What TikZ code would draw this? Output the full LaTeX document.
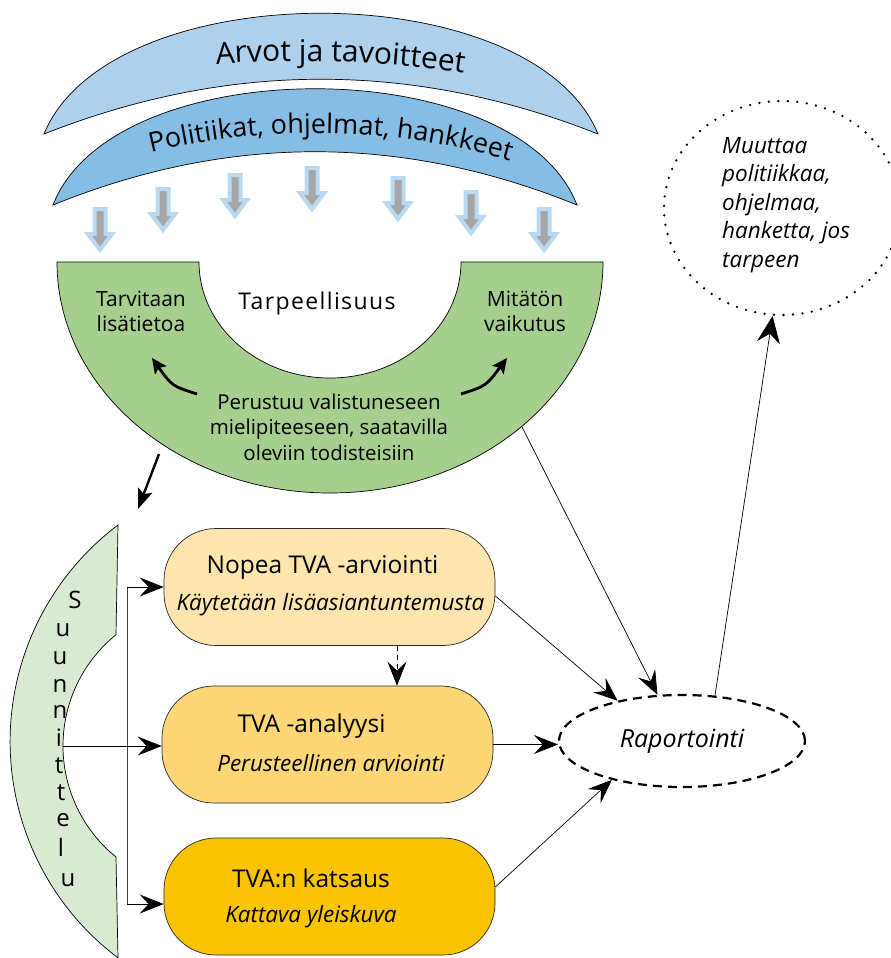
\documentclass[tikz,border=0pt]{standalone}
\usepackage{fontspec}
\setmainfont{Open Sans}
\newfontfamily\spacedfont[LetterSpace=6]{Open Sans}
\usetikzlibrary{arrows.meta,decorations.text,calc,shapes.geometric}

\definecolor{arcA}{HTML}{ADD0EC}
\definecolor{arcB}{HTML}{85BDE5}
\definecolor{arrOut}{HTML}{B9D8F1}
\definecolor{arrIn}{HTML}{A6A6A6}
\definecolor{greenA}{HTML}{A6CE8E}
\definecolor{greenB}{HTML}{D9EAD3}
\definecolor{boxA}{HTML}{FDE5AD}
\definecolor{boxB}{HTML}{FDD776}
\definecolor{boxC}{HTML}{FBC400}

\newcommand\fsz[2]{\fontsize{#1}{#2}\selectfont}
\newcommand\arvofont{\fontsize{30}{32}\selectfont}
\newcommand\polfont{\fontsize{27}{29}\selectfont}

\begin{document}
\begin{tikzpicture}[x=1pt,y=-1pt,
  outl/.style={draw=black, line width=0.7pt},
  darr/.style={fill=arrIn, draw=arrOut, line width=4pt, line join=miter},
  boxnode/.style={draw=black!85, line width=0.7pt, rounded corners=52pt, minimum width=331pt, minimum height=117pt, inner sep=0pt},
  conn/.style={draw=black, line width=0.7pt, -{Stealth[length=24pt,width=19pt,inset=9pt]}},
  title/.style={font=\fsz{24.5}{28}, inner sep=0pt},
  sub/.style={font=\fsz{22.5}{26}\itshape, inner sep=0pt},
  gtext/.style={font=\fsz{21}{25}, align=center, inner sep=0pt},
  thickarr/.style={line width=2.8pt, -{Stealth[length=15pt,width=14pt,inset=3pt]}},
  letter/.style={font=\fsz{24}{28}, inner sep=0pt},
]
\fill[white] (0,0) rectangle (891,958);
\useasboundingbox (0,0) rectangle (891,958);

% top arcs
\draw[outl, fill=arcA] (44,134) .. controls (110,-27) and (532,-27) .. (598,134)
  .. controls (413,61) and (229,61) .. (44,134) -- cycle;
\draw[outl, fill=arcB] (53,205) .. controls (113,50) and (517,50) .. (577,205)
  .. controls (402,134) and (228,134) .. (53,205) -- cycle;
\path[decorate, decoration={text along path, text align=center, text={|\arvofont|Arvot ja tavoitteet}}]
  ($(300,1161)+(262.1:1100)$) arc[start angle=262.1, end angle=282.1, radius=1100];
\path[decorate, decoration={text along path, text align=center, text={|\polfont|Politiikat, ohjelmat, hankkeet}}]
  ($(315,833)+(251.3:700)$) arc[start angle=251.3, end angle=291.3, radius=700];

% small down arrows
\foreach \x/\y in {100/207,163/187,235/173,312/166,398/176,471/190,544/207}{
  \draw[darr] (\x-5.5,\y+2) -- (\x+5.5,\y+2) -- (\x+5.5,\y+27) -- (\x+12,\y+27)
    -- (\x,\y+43) -- (\x-12,\y+27) -- (\x-5.5,\y+27) -- cycle;
}

% green half ring
\draw[outl, fill=greenA] (57,262) arc[start angle=180, end angle=0, x radius=273, y radius=231]
  -- (461,262) arc[start angle=0, end angle=180, x radius=131, y radius=116] -- cycle;
\node[gtext] (tarv) at (141,311) {Tarvitaan\\lisätietoa};
\node[inner sep=0pt] (tarpe) at (317,304) {\spacedfont\fsz{23}{26}Tarpeellisuus};
\node[gtext] (mita) at (525,311) {Mitätön\\vaikutus};
\node[gtext, font=\fsz{20.5}{25.5}] (perus) at (329,427) {Perustuu valistuneseen\\mielipiteeseen, saatavilla\\oleviin todisteisiin};
\coordinate (la1) at (197,394);
\coordinate (la2) at (152,358);
\coordinate (ra1) at (461,394);
\coordinate (ra2) at (507,358);
\draw[thickarr] (la1) .. controls (172,386) .. (la2);
\draw[thickarr] (ra1) .. controls (486,386) .. (ra2);
\coordinate (gdown1) at (159,454);
\coordinate (gdown2) at (138,509);
\draw[thickarr, line width=2.4pt, -{Stealth[length=20pt,width=15pt,inset=4pt]}] (gdown1) -- (gdown2);
\coordinate (gedge) at (522,427);

% Suunnittelu
\draw[outl, fill=greenB] (118,525) arc[start angle=233, end angle=127, radius=271]
  -- (116,857) arc[start angle=129, end angle=231, radius=143] -- cycle;
\foreach \ch/\x/\y [count=\i] in {S/75/600,u/63/630,u/60/658,n/60/686,n/60/712,i/59/738,t/59/766,t/61/793,e/63/820,l/61/847,u/68/880}{
  \node[letter] (sl\i) at (\x,\y) {\ch};
}

% boxes
\node[boxnode, fill=boxA] (nopea) at (329.5,587) {};
\node[boxnode, fill=boxB] (anal) at (327.5,744.5) {};
\node[boxnode, fill=boxC] (kats) at (329.5,896.5) {};
\node[title] (nopeaT) at (322.5,567) {Nopea TVA -arviointi};
\node[sub] (nopeaS) at (330.5,605) {Käytetään lisäasiantuntemusta};
\node[title] (analT) at (311.5,726) {TVA -analyysi};
\node[sub] (analS) at (331,763) {Perusteellinen arviointi};
\node[title] (katsT) at (311,878) {TVA:n katsaus};
\node[sub] (katsS) at (311,917) {Kattava yleiskuva};

% bracket connectors
\coordinate (sun) at (63,746);
\coordinate (brtop) at (127,587);
\coordinate (brbot) at (127,904);
\draw[black!75, line width=0.8pt] (brtop) -- (brbot);
\draw[conn] (brtop) -- (brtop -| nopea.west);
\draw[conn] (sun) -- (sun -| anal.west);
\draw[conn] (brbot) -- (brbot -| kats.west);
\draw[conn, dash pattern=on 5pt off 4pt] (nopea.south -| 397,0) -- (anal.north -| 397,0);

% Raportointi
\node[ellipse, draw, dash pattern=on 9pt off 6pt, line width=2.2pt, minimum width=246pt, minimum height=92pt, inner sep=0pt, font=\fsz{25}{29}\itshape] (rap) at (682,741) {Raportointi};
\draw[conn] ([yshift=-9pt]nopea.east) -- (rap.148);
\draw[conn] (gedge) -- (rap.118);
\draw[conn] (anal.east) -- (anal.east -| rap.west);
\draw[conn] ([yshift=9.5pt]kats.east) -- (rap.209);

% Muuttaa
\node[ellipse, draw, dash pattern=on 0pt off 9.5pt, line cap=round, line width=2.6pt, minimum width=236pt, minimum height=214pt, inner sep=0pt] (muut) at (782,208) {};
\node[anchor=west, align=left, inner sep=0pt, font=\fsz{22.5}{28.5}\itshape] (muuttxt) at (722,205) {Muuttaa\\politiikkaa,\\ohjelmaa,\\hanketta, jos\\tarpeen};
\draw[conn, -{Stealth[length=27pt,width=23pt,inset=9pt]}] (rap.54) -- (muut.265);
\end{tikzpicture}
\end{document}
